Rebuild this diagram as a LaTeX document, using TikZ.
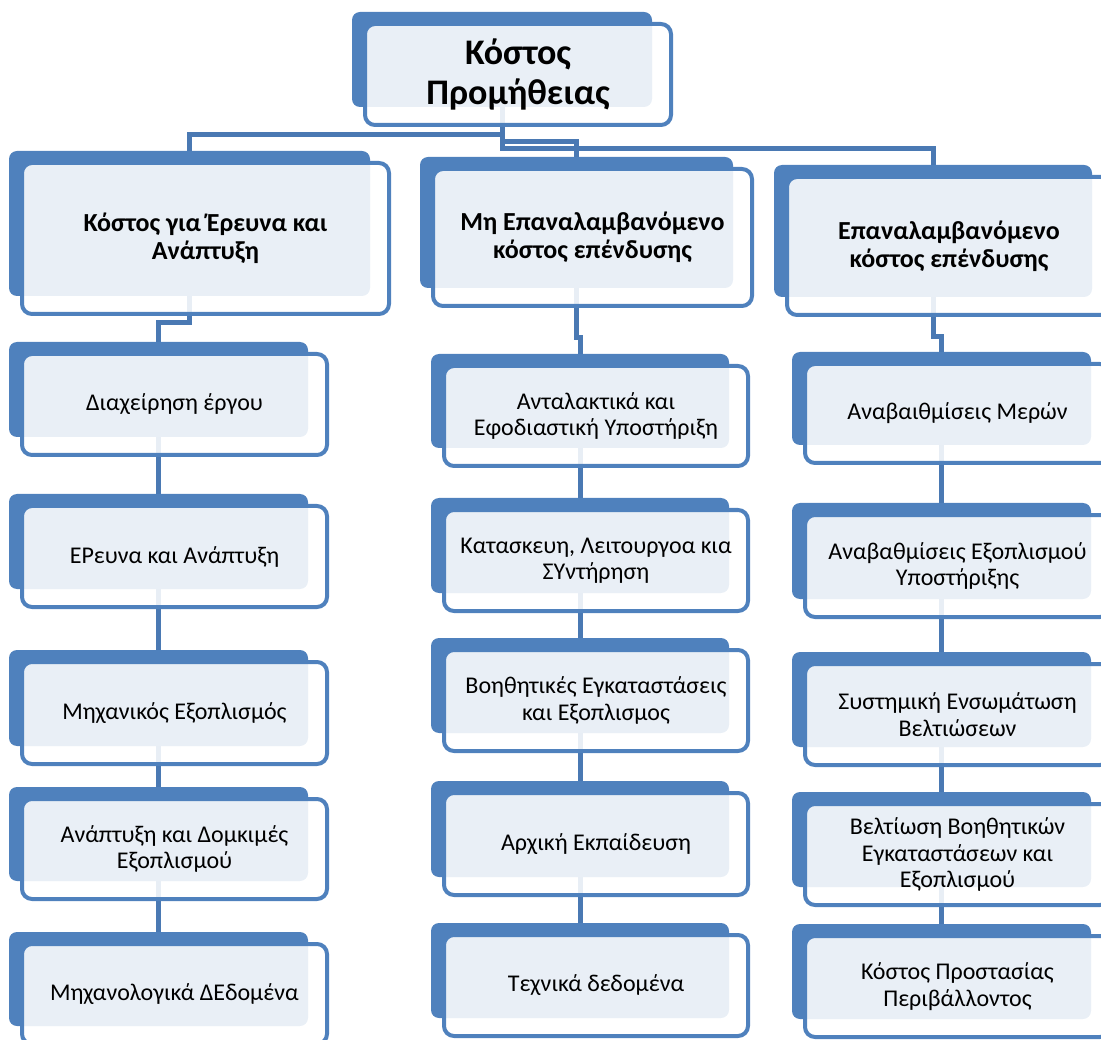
\documentclass[tikz,border=0pt]{standalone}
\usepackage{fontspec}
\setmainfont{Carlito}
\usetikzlibrary{backgrounds}
\definecolor{accent}{HTML}{4F81BD}
\definecolor{linkc}{HTML}{4A79B3}
\tikzset{
  backbox/.style={fill=accent, draw=none, rounded corners=8pt, inner sep=0pt, outer sep=0pt},
  framebox/.style={draw=accent, line width=4pt, fill=white, fill opacity=0.88, text opacity=1,
    rounded corners=10pt, inner sep=0pt, outer sep=0pt, align=center, text=black},
  lvltop/.style={font=\fontsize{36}{40}\selectfont\bfseries},
  lvlmid/.style={font=\fontsize{26}{28}\selectfont\bfseries},
  lvlleaf/.style={font=\fontsize{24}{26.5}\selectfont},
  link/.style={draw=linkc, line width=5pt},
}
% capital epsilon with tonos
\newcommand\EpsTonos{\symbol{"0388}}
% #1 name, #2-#5 corners of the solid back plate, #6 text style, #7 text
\newcommand\costbox[7]{%
  \node[backbox, minimum width={(#4-#2)*1pt}, minimum height={(#5-#3)*1pt}]
    (#1) at ({(#2+#4)/2},{(#3+#5)/2}) {};
  \node[framebox, #6, minimum width={(#4-#2+6)*1pt}, minimum height={(#5-#3+6)*1pt}]
    (#1f) at ({(#2+#4)/2+16},{(#3+#5)/2+15}) {#7};
}
\begin{document}
\begin{tikzpicture}[x=1pt, y=-1pt]
\useasboundingbox (0,0) rectangle (1101,1040);
\clip (0,0) rectangle (1101,1040);

% root
\costbox{t}{352}{12}{652}{107}{lvltop}{Κόστος\\Προμήθειας}

% second level
\costbox{a}{9}{151}{370}{296}{lvlmid}{Κόστος για \EpsTonos ρευνα και\\Ανάπτυξη}
\costbox{b}{420}{157}{733}{288}{lvlmid}{Μη Επαναλαμβανόμενο\\κόστος επένδυσης}
\costbox{c}{774}{165}{1092}{297}{lvlmid}{Επαναλαμβανόμενο\\κόστος επένδυσης}

% left column
\costbox{a1}{9}{342}{308}{437}{lvlleaf}{Διαχείρηση έργου}
\costbox{a2}{9}{494}{308}{589}{lvlleaf}{\EpsTonos Ρευνα και Ανάπτυξη}
\costbox{a3}{9}{650}{308}{746}{lvlleaf}{Μηχανικός Εξοπλισμός}
\costbox{a4}{9}{787}{308}{881}{lvlleaf}{Ανάπτυξη και Δομκιμές\\Εξοπλισμού}
\costbox{a5}{9}{932}{308}{1026}{lvlleaf}{Μηχανολογικά ΔΕδομένα}

% middle column
\costbox{b1}{431}{354}{729}{448}{lvlleaf}{Ανταλακτικά και\\Εφοδιαστική Υποστήριξη}
\costbox{b2}{431}{498}{729}{593}{lvlleaf}{Κατασκευη, Λειτουργοα κια\\ΣΥντήρηση}
\costbox{b3}{431}{638}{729}{733}{lvlleaf}{Βοηθητικές Εγκαταστάσεις\\και Εξοπλισμος}
\costbox{b4}{431}{781}{729}{877}{lvlleaf}{Αρχική Εκπαίδευση}
\costbox{b5}{431}{923}{729}{1018}{lvlleaf}{Τεχνικά δεδομένα}

% right column
\costbox{c1}{792}{352}{1091}{445}{lvlleaf}{Αναβαιθμίσεις Μερών}
\costbox{c2}{792}{503}{1091}{599}{lvlleaf}{Αναβαθμίσεις Εξοπλισμού\\Υποστήριξης}
\costbox{c3}{792}{652}{1091}{747}{lvlleaf}{Συστημική Ενσωμάτωση\\Βελτιώσεων}
\costbox{c4}{792}{792}{1091}{887}{lvlleaf}{Βελτίωση Βοηθητικών\\Εγκαταστάσεων και\\Εξοπλισμού}
\costbox{c5}{792}{924}{1091}{1019}{lvlleaf}{Κόστος Προστασίας\\Περιβάλλοντος}

% connectors, kept behind the boxes
\begin{pgfonlayer}{background}
  \draw[link] (t.south) -- ++(0,28) -| (a.north);
  \draw[link] (t.south) -- ++(0,35) -| (b.north);
  \draw[link] (t.south) -- ++(0,42) -| (c.north);
  \draw[link] (a.south) -- ++(0,27) -| (a1.north);
  \draw[link] (b.south) -- ++(0,50) -| (b1.north);
  \draw[link] (c.south) -- ++(0,40) -| (c1.north);
  \draw[link] (a1.south) -- (a2.north);
  \draw[link] (a2.south) -- (a3.north);
  \draw[link] (a3.south) -- (a4.north);
  \draw[link] (a4.south) -- (a5.north);
  \draw[link] (b1.south) -- (b2.north);
  \draw[link] (b2.south) -- (b3.north);
  \draw[link] (b3.south) -- (b4.north);
  \draw[link] (b4.south) -- (b5.north);
  \draw[link] (c1.south) -- (c2.north);
  \draw[link] (c2.south) -- (c3.north);
  \draw[link] (c3.south) -- (c4.north);
  \draw[link] (c4.south) -- (c5.north);
\end{pgfonlayer}
\end{tikzpicture}
\end{document}
